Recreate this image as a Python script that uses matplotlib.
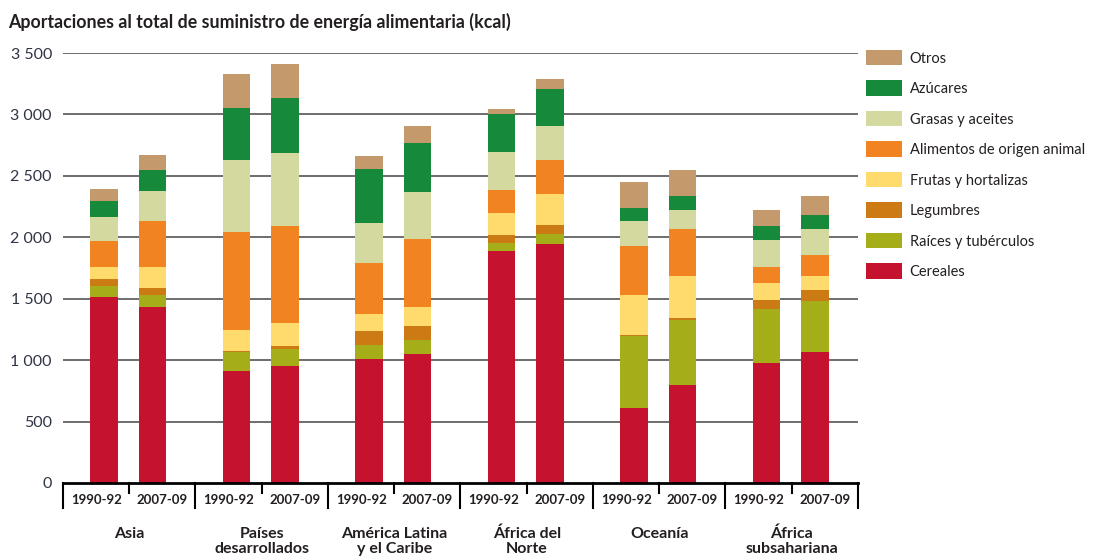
import matplotlib
matplotlib.use("Agg")
import matplotlib.pyplot as plt
from matplotlib.patches import Patch
import numpy as np

plt.rcParams['font.family'] = ['Lato', 'DejaVu Sans']

title = "Aportaciones al total de suministro de energía alimentaria (kcal)"
regions = ["Asia", "Países\ndesarrollados", "América Latina\ny el Caribe",
           "África del\nNorte", "Oceanía", "África\nsubsahariana"]
periods = ["1990-92", "2007-09"]

# values per bar: region order, 1990-92 then 2007-09
cereales   = [1510, 1430, 914, 952, 1008, 1049, 1886, 1946, 607, 800, 976, 1068]
raices     = [96, 100, 149, 138, 119, 113, 65, 81, 586, 523, 442, 410]
legumbres  = [55, 55, 8, 22, 111, 114, 71, 73, 11, 16, 73, 89]
frutas     = [100, 176, 171, 190, 135, 154, 175, 249, 325, 348, 136, 114]
animal     = [209, 370, 805, 786, 419, 556, 187, 283, 404, 382, 135, 174]
grasas     = [193, 246, 579, 598, 327, 384, 313, 276, 196, 154, 212, 214]
azucares   = [135, 171, 429, 445, 440, 398, 303, 303, 113, 112, 114, 114]
otros      = [95, 122, 273, 276, 100, 140, 43, 81, 212, 214, 135, 157]

series_names = ["Cereales", "Raíces y tubérculos", "Legumbres", "Frutas y hortalizas",
                "Alimentos de origen animal", "Grasas y aceites", "Azúcares", "Otros"]
series_vals = [cereales, raices, legumbres, frutas, animal, grasas, azucares, otros]
colors = ["#c4122f", "#a5ad19", "#cc7a14", "#ffdb6e",
          "#f28321", "#d3d99f", "#168a3a", "#c49a6c"]

yticks = [0, 500, 1000, 1500, 2000, 2500, 3000, 3500]
ytick_labels = ["0", "500", "1 000", "1 500", "2 000", "2 500", "3 000", "3 500"]

txt = "#231f20"
fig = plt.figure(figsize=(11.15, 5.58), dpi=100)
ax = fig.add_axes([63/1115, 1-483/558, (858-63)/1115, (483-53)/558])

offsets = [0.31, 0.675]
width = 0.205
x = []
for i in range(len(regions)):
    for o in offsets:
        x.append(i + o)
x = np.array(x)

bottom = np.zeros(len(x))
for name, vals, c in zip(series_names, series_vals, colors):
    v = np.array(vals, dtype=float)
    ax.bar(x, v, width, bottom=bottom, color=c, label=name, zorder=3, linewidth=0)
    bottom += v

ax.set_xlim(0, len(regions))
ax.set_ylim(0, 3500)
ax.set_yticks(yticks)
ax.set_yticklabels(ytick_labels, fontsize=11.5, color="#2f3445")
ax.tick_params(axis='y', length=0, pad=8)
ax.set_xticks([])
for s in ax.spines.values():
    s.set_visible(False)
for yv in yticks[1:]:
    ax.axhline(yv, color="#555555", lw=1.2, zorder=1)
ax.axhline(0, color="black", lw=2, zorder=4, clip_on=False)

# category box below axis
for i in range(len(regions) + 1):
    ax.plot([i, i], [0, -200], color="black", lw=1.5, clip_on=False, zorder=4)
for i in range(len(regions)):
    ax.plot([i + 0.5, i + 0.5], [0, -80], color="black", lw=1.5, clip_on=False, zorder=4)
    for j, p in enumerate(periods):
        ax.text(i + 0.25 + 0.5 * j, -140, p, ha='center', va='center',
                fontsize=9.5, fontweight='bold', color=txt)
    ax.text(i + 0.5, -355, regions[i], ha='center', va='top', fontsize=11.5,
            fontweight='bold', color=txt, linespacing=1.12)

fig.text(8/1115, 1-22/558, title, ha='left', va='center', fontsize=12.8,
         fontweight='bold', color=txt)

handles = [Patch(facecolor=c, edgecolor='none') for c in colors][::-1]
labels = series_names[::-1]
fig.legend(handles, labels, loc='upper left', bbox_to_anchor=(866/1115, 1-50/558),
           frameon=False, fontsize=10.5, handlelength=2.5, handleheight=1.25,
           handletextpad=0.5, labelspacing=1.02, borderpad=0, borderaxespad=0,
           labelcolor=txt)

fig.savefig("out.png", dpi=100)
